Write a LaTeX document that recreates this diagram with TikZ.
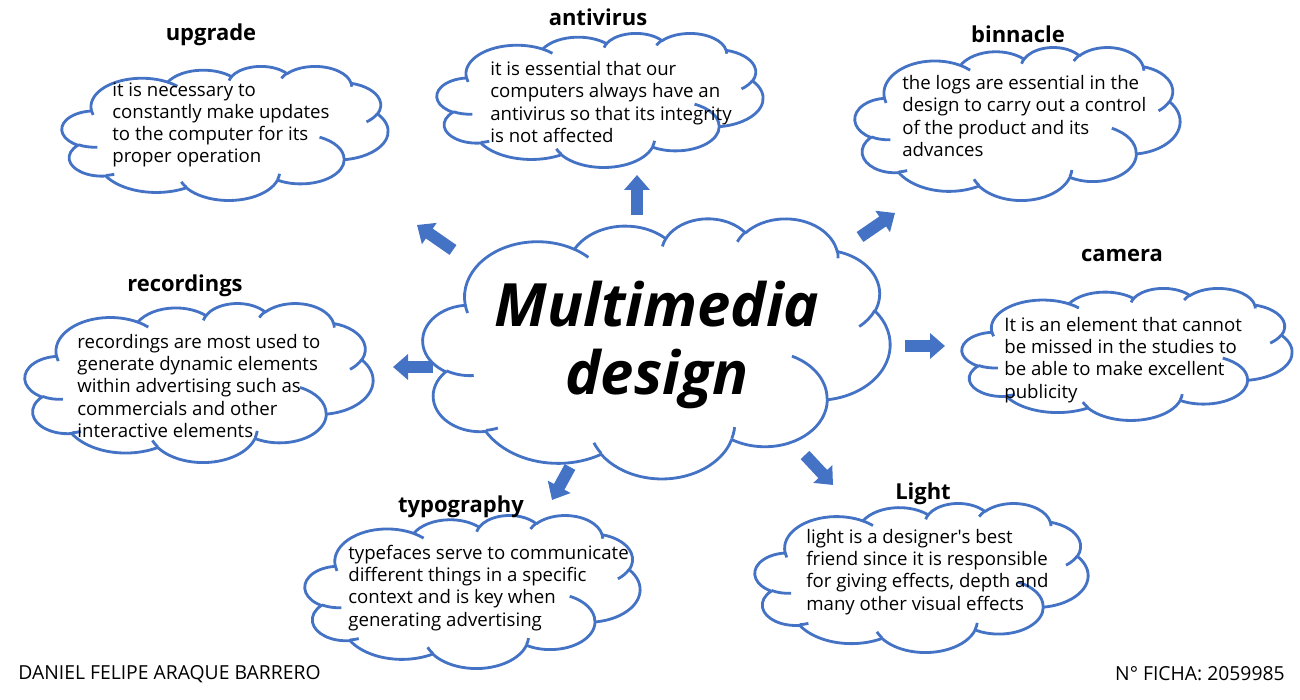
\documentclass[tikz,border=0pt]{standalone}
\usepackage{fontspec}
\setmainfont{Open Sans}
\usepackage{xcolor}
\usepackage{tikz}
\usetikzlibrary{arrows.meta}
\definecolor{MDBlue}{HTML}{4472C4}
\definecolor{MDText}{HTML}{000000}
\newcommand\cloudangles[4]{%
  \pgfmathsetmacro\cloudta{atan2((#1)*sin(#3),(#2)*cos(#3))}%
  \pgfmathsetmacro\cloudtb{atan2((#1)*sin((#3)+(#4)),(#2)*cos((#3)+(#4)))}%
  \pgfmathsetmacro\cloudtd{mod(\cloudtb-(\cloudta)+720,360)}}
\tikzset{
  bubble/.style={draw=MDBlue,line width=1.6pt,fill=white,line join=round},
  bubblecurl/.style={draw=MDBlue,line width=1.6pt},
  bubbletext/.style={anchor=west,align=left,inner sep=0pt,text=MDText,font=\fontsize{10.6}{12.6}\selectfont},
  bubbletitle/.style={inner sep=0pt,font=\bfseries\fontsize{12.5}{15}\selectfont},
  pointer/.style={MDBlue,line width=0.24cm,-{Triangle[length=0.30cm,width=0.50cm]}},
  officecloud/.pic={
    \draw[bubble] (3.900,14.370)
      \foreach \wr/\hr/\sa/\sw in {6.753/9.190/-190.48748/123.78053,5.333/7.267/-144.10238/89.94523,
        4.365/5.945/-145.80792/99.72302,4.857/6.595/-130.98607/117.24173,5.333/7.273/-78.70888/109.02692,
        6.775/9.220/-46.26725/130.26900,5.785/7.867/0.62502/114.03333,6.752/9.215/22.45160/115.17255,
        7.720/10.543/66.24263/75.71102,4.360/5.918/-274.94208/146.73557,4.345/5.945/-246.82850/152.51885}
      {[/utils/exec={\cloudangles{\wr}{\hr}{\sa}{\sw}}] arc[start angle=\cloudta,delta angle=\cloudtd,x radius=\wr,y radius=\hr]}
      -- cycle;
    \foreach \px/\py/\wr/\hr/\sa/\sw in {4.693/26.177/4.345/5.945/86.74200/26.42950,6.928/34.899/4.360/5.918/73.61047/11.44747,
        16.478/39.090/6.752/9.215/137.62415/14.08110,28.827/34.751/6.752/9.215/6.45327/15.99835,
        34.129/22.954/5.785/7.867/-70.29235/70.91737,41.798/15.354/5.333/7.273/30.31803/27.75150,
        38.324/5.426/4.857/6.595/-13.74433/14.85890,29.078/3.952/4.857/6.595/-149.18145/18.19537,
        22.141/4.720/4.365/5.945/-163.49427/17.68635,14.000/5.192/6.753/9.190/-66.70695/12.31935,
        4.127/15.789/6.753/9.190/157.65435/11.85817}
      {\cloudangles{\wr}{\hr}{\sa}{\sw}
       \draw[bubblecurl] (\px,\py) arc[start angle=\cloudta,delta angle=\cloudtd,x radius=\wr,y radius=\hr];}
  }
}

\begin{document}
\begin{tikzpicture}[x=1cm,y=1cm]
\path[use as bounding box] (0,0) rectangle (26.00,14.00);
\begin{scope}[shift={(8.46,9.64)},x=0.21620cm,y=-0.12037cm] \pic (core) {officecloud}; \end{scope}
\begin{scope}[shift={(1.24,12.68)},x=0.15093cm,y=-0.06204cm] \pic (upgrade) {officecloud}; \end{scope}
\begin{scope}[shift={(8.74,13.34)},x=0.15093cm,y=-0.06204cm] \pic (antivirus) {officecloud}; \end{scope}
\begin{scope}[shift={(17.10,13.06)},x=0.15046cm,y=-0.07083cm] \pic (binnacle) {officecloud}; \end{scope}
\begin{scope}[shift={(0.50,7.94)},x=0.16111cm,y=-0.07361cm] \pic (recordings) {officecloud}; \end{scope}
\begin{scope}[shift={(19.24,8.24)},x=0.15278cm,y=-0.06111cm] \pic (camera) {officecloud}; \end{scope}
\begin{scope}[shift={(6.10,3.70)},x=0.15509cm,y=-0.07083cm] \pic (typography) {officecloud}; \end{scope}
\begin{scope}[shift={(15.10,3.94)},x=0.15417cm,y=-0.06898cm] \pic (light) {officecloud}; \end{scope}
\node[align=center,inner sep=0pt,font=\bfseries\itshape\fontsize{34}{38.5}\selectfont] (coretitle) at (13.14,7.10) {Multimedia\\design};
\node[bubbletitle] (upgradetitle) at (4.22,13.30) {upgrade};
\node[bubbletext] (upgradetext) at (2.24,11.50) {it is necessary to\\constantly make updates\\to the computer for its\\proper operation};
\node[bubbletitle] (antivirustitle) at (11.96,13.66) {antivirus};
\node[bubbletext] (antivirustext) at (9.80,11.96) {it is essential that our\\computers always have an\\antivirus so that its integrity\\is not affected};
\node[bubbletitle] (binnacletitle) at (20.36,13.32) {binnacle};
\node[bubbletext] (binnacletext) at (18.04,11.68) {the logs are essential in the\\design to carry out a control\\of the product and its\\advances};
\node[bubbletitle] (recordingstitle) at (3.70,8.28) {recordings};
\node[bubbletext] (recordingstext) at (1.54,6.28) {recordings are most used to\\generate dynamic elements\\within advertising such as\\commercials and other\\interactive elements};
\node[bubbletitle] (cameratitle) at (22.44,8.90) {camera};
\node[bubbletext] (cameratext) at (20.08,6.80) {It is an element that cannot\\be missed in the studies to\\be able to make excellent\\publicity};
\node[bubbletitle] (typographytitle) at (9.22,3.86) {typography};
\node[bubbletext] (typographytext) at (6.96,2.24) {typefaces serve to communicate\\different things in a specific\\context and is key when\\generating advertising};
\node[bubbletitle] (lighttitle) at (18.46,4.12) {Light};
\node[bubbletext] (lighttext) at (16.12,2.56) {light is a designer\textquotesingle s best\\friend since it is responsible\\for giving effects, depth and\\many other visual effects};
\coordinate (upfrom) at (12.74,9.70);
\coordinate (upto) at (12.74,10.50);
\coordinate (ulfrom) at (9.06,9.00);
\coordinate (ulto) at (8.34,9.50);
\coordinate (urfrom) at (17.20,9.26);
\coordinate (urto) at (17.90,9.74);
\coordinate (lfrom) at (8.66,6.66);
\coordinate (lto) at (7.86,6.66);
\coordinate (rfrom) at (18.10,7.08);
\coordinate (rto) at (18.90,7.08);
\coordinate (dlfrom) at (11.40,4.66);
\coordinate (dlto) at (11.04,4.00);
\coordinate (drfrom) at (16.10,4.90);
\coordinate (drto) at (16.66,4.30);
\draw[pointer] (upfrom) -- (upto);
\draw[pointer] (ulfrom) -- (ulto);
\draw[pointer] (urfrom) -- (urto);
\draw[pointer] (lfrom) -- (lto);
\draw[pointer] (rfrom) -- (rto);
\draw[pointer] (dlfrom) -- (dlto);
\draw[pointer] (drfrom) -- (drto);
\node[anchor=west,inner sep=0pt,font=\fontsize{11}{13}\selectfont] (author) at (0.36,0.52) {DANIEL FELIPE ARAQUE BARRERO};
\node[anchor=east,inner sep=0pt,font=\fontsize{11}{13}\selectfont] (ficha) at (25.70,0.52) {N° FICHA: 2059985};
\end{tikzpicture}
\end{document}
